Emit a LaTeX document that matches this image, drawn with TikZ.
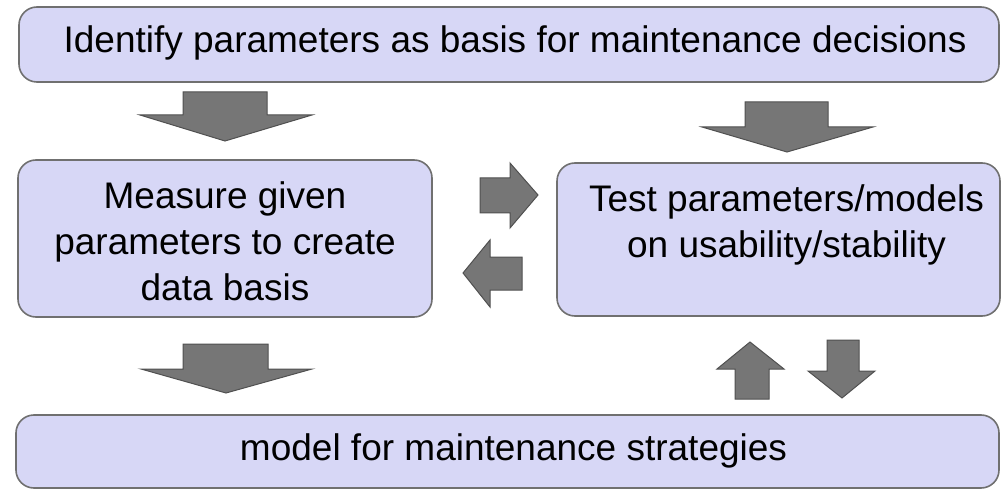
\documentclass[tikz,border=0pt]{standalone}
\usepackage{fontspec}
\setmainfont{Liberation Sans}
\definecolor{boxfill}{HTML}{D7D7F6}
\definecolor{boxline}{HTML}{707070}
\definecolor{arrfill}{HTML}{767676}
\definecolor{arrline}{HTML}{505050}
\begin{document}
\begin{tikzpicture}[x=1pt,y=-1pt,
  box/.style={draw=boxline, line width=1.6pt, fill=boxfill, rounded corners=18pt, inner sep=0pt},
  boxtext/.style={font=\fontsize{37pt}{46pt}\selectfont, align=center, inner sep=0pt},
  blockarrow/.style={draw=arrline, line width=1pt, fill=arrfill, line join=miter}]
\useasboundingbox (0,0) rectangle (1001,489);
\node[box, minimum width=980pt, minimum height=75pt] (top) at (509,44.5) {};
\node[boxtext] (toptext) at ([xshift=6pt,yshift=2pt]top.center)
  {Identify parameters as basis for maintenance decisions};
\node[box, minimum width=414pt, minimum height=157pt] (left) at (225,238.5) {};
\node[boxtext] (lefttext) at ([yshift=-3pt]left.center)
  {Measure given\\parameters to create\\data basis};
\node[box, minimum width=443pt, minimum height=153pt] (right) at (778.5,239.5) {};
\node[boxtext] (righttext) at ([xshift=8pt,yshift=15pt]right.center)
  {Test parameters/models\\on usability/stability};
\node[box, minimum width=983pt, minimum height=73pt] (bottom) at (507.5,451.5) {};
\node[boxtext] (bottomtext) at ([xshift=6pt,yshift=1pt]bottom.center)
  {model for maintenance strategies};
% top-left down arrow
\draw[blockarrow] (183,92) -- (267,92) -- (267,115) -- (312,115) -- (225,141)
  -- (140,115) -- (183,115) -- cycle;
% top-right down arrow
\draw[blockarrow] (745,102) -- (828,102) -- (828,127) -- (873,127) -- (787,152)
  -- (702,127) -- (745,127) -- cycle;
% bottom-left down arrow
\draw[blockarrow] (183,344) -- (268,344) -- (268,369) -- (312,369) -- (226,393)
  -- (141,369) -- (183,369) -- cycle;
% right arrow
\draw[blockarrow] (480,178) -- (510,178) -- (510,163) -- (538,195) -- (510,228)
  -- (510,213) -- (480,213) -- cycle;
% left arrow
\draw[blockarrow] (522,257) -- (490,257) -- (490,240) -- (463,273) -- (490,307)
  -- (490,290) -- (522,290) -- cycle;
% up arrow
\draw[blockarrow] (735,399) -- (769,399) -- (769,369) -- (784,369) -- (750,342)
  -- (717,369) -- (735,369) -- cycle;
% down arrow
\draw[blockarrow] (827,340) -- (859,340) -- (859,371) -- (875,371) -- (842,398)
  -- (808,371) -- (827,371) -- cycle;
\end{tikzpicture}
\end{document}
